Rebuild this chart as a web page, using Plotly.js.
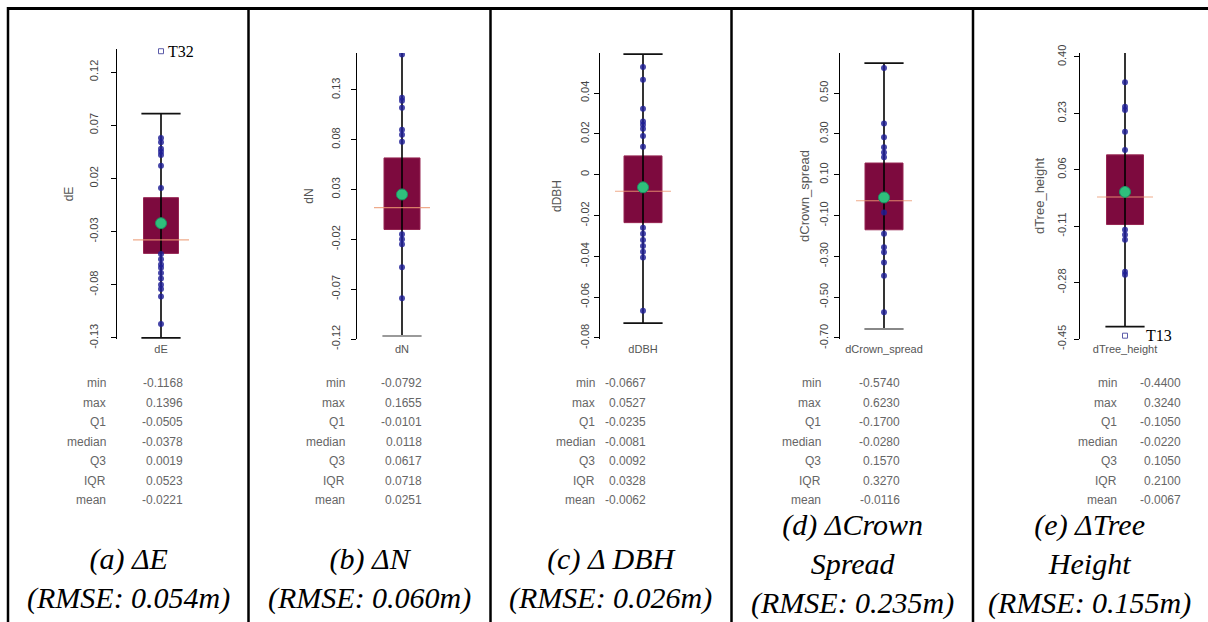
<!DOCTYPE html>
<html><head><meta charset="utf-8">
<script src="https://cdn.plot.ly/plotly-3.0.1.min.js"></script>
<style>html,body{margin:0;padding:0;background:#fff}#chart{width:1208px;height:622px}</style>
</head><body><div id="chart"></div>
<script>
// ---------- data ----------
const categories = ['dE', 'dN', 'dDBH', 'dCrown_spread', 'dTree_height'];
const q1Values = [-0.0505, -0.0101, -0.0235, -0.1700, -0.1050];
const medianValues = [-0.0378, 0.0118, -0.0081, -0.0280, -0.0220];
const q3Values = [0.0019, 0.0617, 0.0092, 0.1570, 0.1050];
const meanValues = [-0.0221, 0.0251, -0.0062, -0.0116, -0.0067];
const lowerWhiskers = [-0.130, -0.117, -0.0727, -0.656, -0.413];
const upperWhiskers = [0.081, 0.168, 0.059, 0.646, 0.415];

const pointsE = [0.058, 0.054, 0.048, 0.045, 0.042, 0.032, 0.011, -0.051, -0.056, -0.061, -0.064, -0.069, -0.074, -0.080, -0.084, -0.091, -0.1168];
const pointsN = [0.1655, 0.122, 0.119, 0.112, 0.090, 0.085, 0.078, -0.015, -0.020, -0.025, -0.048, -0.0792];
const pointsDBH = [0.0527, 0.0465, 0.0323, 0.026, 0.0245, 0.0225, 0.019, 0.0137, -0.026, -0.029, -0.032, -0.035, -0.0377, -0.0406, -0.0667];
const pointsCrown = [0.623, 0.351, 0.283, 0.234, 0.209, 0.185, -0.085, -0.19, -0.256, -0.28, -0.33, -0.395, -0.574];
const pointsHeight = [0.324, 0.25, 0.24, 0.175, 0.12, -0.121, -0.136, -0.151, -0.247, -0.256];
const panelPoints = [pointsE, pointsN, pointsDBH, pointsCrown, pointsHeight];

const outlierValues = [[0.1396], [], [], [], [-0.4400]];
const outlierLabels = [['T32'], [], [], [], ['T13']];

const tickValsE = [-0.13, -0.08, -0.03, 0.02, 0.07, 0.12];
const tickTextE = ['-0.13', '-0.08', '-0.03', '0.02', '0.07', '0.12'];
const tickValsN = [-0.12, -0.07, -0.02, 0.03, 0.08, 0.13];
const tickTextN = ['-0.12', '-0.07', '-0.02', '0.03', '0.08', '0.13'];
const tickValsDBH = [-0.08, -0.06, -0.04, -0.02, 0, 0.02, 0.04];
const tickTextDBH = ['-0.08', '-0.06', '-0.04', '-0.02', '0', '0.02', '0.04'];
const tickValsCrown = [-0.70, -0.50, -0.30, -0.10, 0.10, 0.30, 0.50];
const tickTextCrown = ['-0.70', '-0.50', '-0.30', '-0.10', '0.10', '0.30', '0.50'];
const tickValsHeight = [-0.45, -0.28, -0.11, 0.06, 0.23, 0.40];
const tickTextHeight = ['-0.45', '-0.28', '-0.11', '0.06', '0.23', '0.40'];
const panelTickVals = [tickValsE, tickValsN, tickValsDBH, tickValsCrown, tickValsHeight];
const panelTickText = [tickTextE, tickTextN, tickTextDBH, tickTextCrown, tickTextHeight];

const statNames = ['min', 'max', 'Q1', 'median', 'Q3', 'IQR', 'mean'];
const statsE = ['-0.1168', '0.1396', '-0.0505', '-0.0378', '0.0019', '0.0523', '-0.0221'];
const statsN = ['-0.0792', '0.1655', '-0.0101', '0.0118', '0.0617', '0.0718', '0.0251'];
const statsDBH = ['-0.0667', '0.0527', '-0.0235', '-0.0081', '0.0092', '0.0328', '-0.0062'];
const statsCrown = ['-0.5740', '0.6230', '-0.1700', '-0.0280', '0.1570', '0.3270', '-0.0116'];
const statsHeight = ['-0.4400', '0.3240', '-0.1050', '-0.0220', '0.1050', '0.2100', '-0.0067'];
const panelStats = [statsE, statsN, statsDBH, statsCrown, statsHeight];

const captions = [
  '(a) ΔE<br>(RMSE: 0.054m)',
  '(b) ΔN<br>(RMSE: 0.060m)',
  '(c) Δ DBH<br>(RMSE: 0.026m)',
  '(d) ΔCrown<br>Spread<br>(RMSE: 0.235m)',
  '(e) ΔTree<br>Height<br>(RMSE: 0.155m)'
];

// ---------- layout geometry (pixels) ----------
const W = 1208, H = 622;
const plotBottom = 339;
const geom = [
  {axisX: 117, center: 161, boxPx: 35, top: 49, range: [-0.131, 0.1417], labelRight: 108, valueRight: 185, cell: 128, capY: 578, tickSO: 9, titleSO: 11, titleSize: 12, lowCap: '#111', outShift: 5},
  {axisX: 357, center: 402, boxPx: 36, top: 53, range: [-0.120, 0.167], labelRight: 347, valueRight: 424, cell: 369, capY: 578, tickSO: 7, titleSO: 13, titleSize: 12, lowCap: '#9a9a9a', outShift: 5},
  {axisX: 600, center: 643, boxPx: 38, top: 53, range: [-0.0805, 0.0596], labelRight: 597, valueRight: 648, cell: 610, capY: 578, tickSO: 1, titleSO: 14, titleSize: 12, lowCap: '#111', outShift: 5},
  {axisX: 840, center: 884, boxPx: 38, top: 53, range: [-0.705, 0.696], labelRight: 823, valueRight: 902, cell: 852, capY: 564, tickSO: 2, titleSO: 5, titleSize: 13, lowCap: '#888', outShift: 5},
  {axisX: 1080, center: 1125, boxPx: 37, top: 53, range: [-0.45, 0.412], labelRight: 1119, valueRight: 1183, cell: 1089, capY: 564, tickSO: 4, titleSO: 8, titleSize: 13, lowCap: '#111', outShift: 19}
];
const rowY0 = 383, rowStep = 19.5;

const traces = [];
const layout = {
  width: W, height: H,
  margin: {l: 0, r: 0, t: 0, b: 0},
  paper_bgcolor: '#ffffff', plot_bgcolor: 'rgba(0,0,0,0)',
  showlegend: false,
  boxmode: 'overlay',
  annotations: [], shapes: []
};

const grey = '#555555';
categories.forEach((cat, i) => {
  const g = geom[i];
  const xa = i === 0 ? 'x' : 'x' + (i + 1);
  const ya = i === 0 ? 'y' : 'y' + (i + 1);
  const xKey = i === 0 ? 'xaxis' : 'xaxis' + (i + 1);
  const yKey = i === 0 ? 'yaxis' : 'yaxis' + (i + 1);
  const domPx = 2 * (g.center - g.axisX);

  layout[xKey] = {
    domain: [g.axisX / W, (g.axisX + domPx) / W],
    anchor: ya, type: 'category', range: [-0.5, 0.5],
    showline: false, showgrid: false, zeroline: false, ticks: '',
    tickfont: {family: 'Liberation Sans, Arial, sans-serif', size: 11, color: grey},
    ticklabelstandoff: 2, fixedrange: true
  };
  layout[yKey] = {
    domain: [1 - plotBottom / H, 1 - g.top / H],
    anchor: xa, range: g.range,
    showline: true, linecolor: '#000', linewidth: 1,
    ticks: 'outside', ticklen: 5, tickcolor: '#000', tickwidth: 1,
    tickmode: 'array', tickvals: panelTickVals[i], ticktext: panelTickText[i],
    tickangle: -90, ticklabelstandoff: g.tickSO,
    tickfont: {family: 'Liberation Sans, Arial, sans-serif', size: 11, color: '#444'},
    showgrid: false, zeroline: false, fixedrange: true,
    title: {text: cat, standoff: g.titleSO, font: {family: 'Liberation Sans, Arial, sans-serif', size: g.titleSize, color: grey}}
  };

  // box body
  traces.push({
    type: 'box', x: [cat], q1: [q1Values[i]], median: [medianValues[i]], q3: [q3Values[i]],
    lowerfence: [q1Values[i]], upperfence: [q3Values[i]],
    width: g.boxPx / domPx, whiskerwidth: 0, boxpoints: false,
    fillcolor: '#7d0a3e', line: {color: '#962552', width: 1},
    xaxis: xa, yaxis: ya, hoverinfo: 'skip'
  });
  // whisker line through the box
  traces.push({
    type: 'scatter', mode: 'lines', x: [cat, cat], y: [lowerWhiskers[i], upperWhiskers[i]],
    line: {color: '#000', width: 1.6}, xaxis: xa, yaxis: ya, hoverinfo: 'skip', cliponaxis: false
  });
  // whisker caps
  traces.push({
    type: 'scatter', mode: 'markers', x: [cat, cat], y: [lowerWhiskers[i], upperWhiskers[i]],
    marker: {symbol: 'line-ew', size: 28, line: {color: [g.lowCap, '#111'], width: 1.8}},
    xaxis: xa, yaxis: ya, hoverinfo: 'skip', cliponaxis: false
  });
  // data points
  traces.push({
    type: 'scatter', mode: 'markers', x: panelPoints[i].map(() => cat), y: panelPoints[i],
    marker: {color: 'rgba(30,30,150,0.82)', size: 6},
    xaxis: xa, yaxis: ya, hoverinfo: 'skip'
  });
  // median line
  traces.push({
    type: 'scatter', mode: 'markers', x: [cat], y: [medianValues[i]],
    marker: {symbol: 'line-ew', size: 40, line: {color: 'rgba(235,150,110,0.8)', width: 1.1}},
    xaxis: xa, yaxis: ya, hoverinfo: 'skip'
  });
  // mean
  traces.push({
    type: 'scatter', mode: 'markers', x: [cat], y: [meanValues[i]],
    marker: {color: '#2fbf7c', size: 11, line: {color: '#1e8f63', width: 1}},
    xaxis: xa, yaxis: ya, hoverinfo: 'skip'
  });
  // outliers
  if (outlierValues[i].length) {
    traces.push({
      type: 'scatter', mode: 'markers', x: outlierValues[i].map(() => cat), y: outlierValues[i],
      marker: {symbol: 'square-open', size: 5, color: '#5a5aa8', line: {width: 1}},
      xaxis: xa, yaxis: ya, hoverinfo: 'skip', cliponaxis: false
    });
    outlierValues[i].forEach((v, k) => {
      layout.annotations.push({
        xref: xa, yref: ya, x: cat, y: v, text: outlierLabels[i][k],
        xanchor: 'left', yanchor: 'middle', xshift: g.outShift, showarrow: false,
        font: {family: 'Liberation Serif, Times New Roman, serif', size: 16, color: '#000'}
      });
    });
  }

  // statistics table
  statNames.forEach((name, r) => {
    const py = rowY0 + r * rowStep;
    layout.annotations.push({
      xref: 'paper', yref: 'paper', x: g.labelRight / W, y: 1 - py / H,
      xanchor: 'right', yanchor: 'middle', showarrow: false, text: name,
      font: {family: 'Liberation Sans, Arial, sans-serif', size: 12, color: '#666'}
    });
    layout.annotations.push({
      xref: 'paper', yref: 'paper', x: g.valueRight / W, y: 1 - py / H,
      xanchor: 'right', yanchor: 'middle', showarrow: false, text: panelStats[i][r],
      font: {family: 'Liberation Sans, Arial, sans-serif', size: 12, color: '#666'}
    });
  });

  // caption
  layout.annotations.push({
    xref: 'paper', yref: 'paper', x: g.cell / W, y: 1 - g.capY / H,
    xanchor: 'center', yanchor: 'middle', showarrow: false,
    text: '<i>' + captions[i].split('<br>').join('</i><br><i>') + '</i>',
    font: {family: 'Liberation Serif, Times New Roman, serif', size: 30, color: '#000'}
  });
});

// table borders
const borderXs = [8, 248.5, 490.5, 731.5, 973];
borderXs.forEach(bx => {
  layout.shapes.push({type: 'line', xref: 'paper', yref: 'paper', x0: bx / W, x1: bx / W, y0: 0, y1: 1 - 7 / H, line: {color: '#000', width: 2.5}});
});
layout.shapes.push({type: 'line', xref: 'paper', yref: 'paper', x0: 7 / W, x1: 1, y0: 1 - 8.5 / H, y1: 1 - 8.5 / H, line: {color: '#000', width: 3}});

Plotly.newPlot('chart', traces, layout, {displayModeBar: false, staticPlot: true});
</script>
</body></html>
